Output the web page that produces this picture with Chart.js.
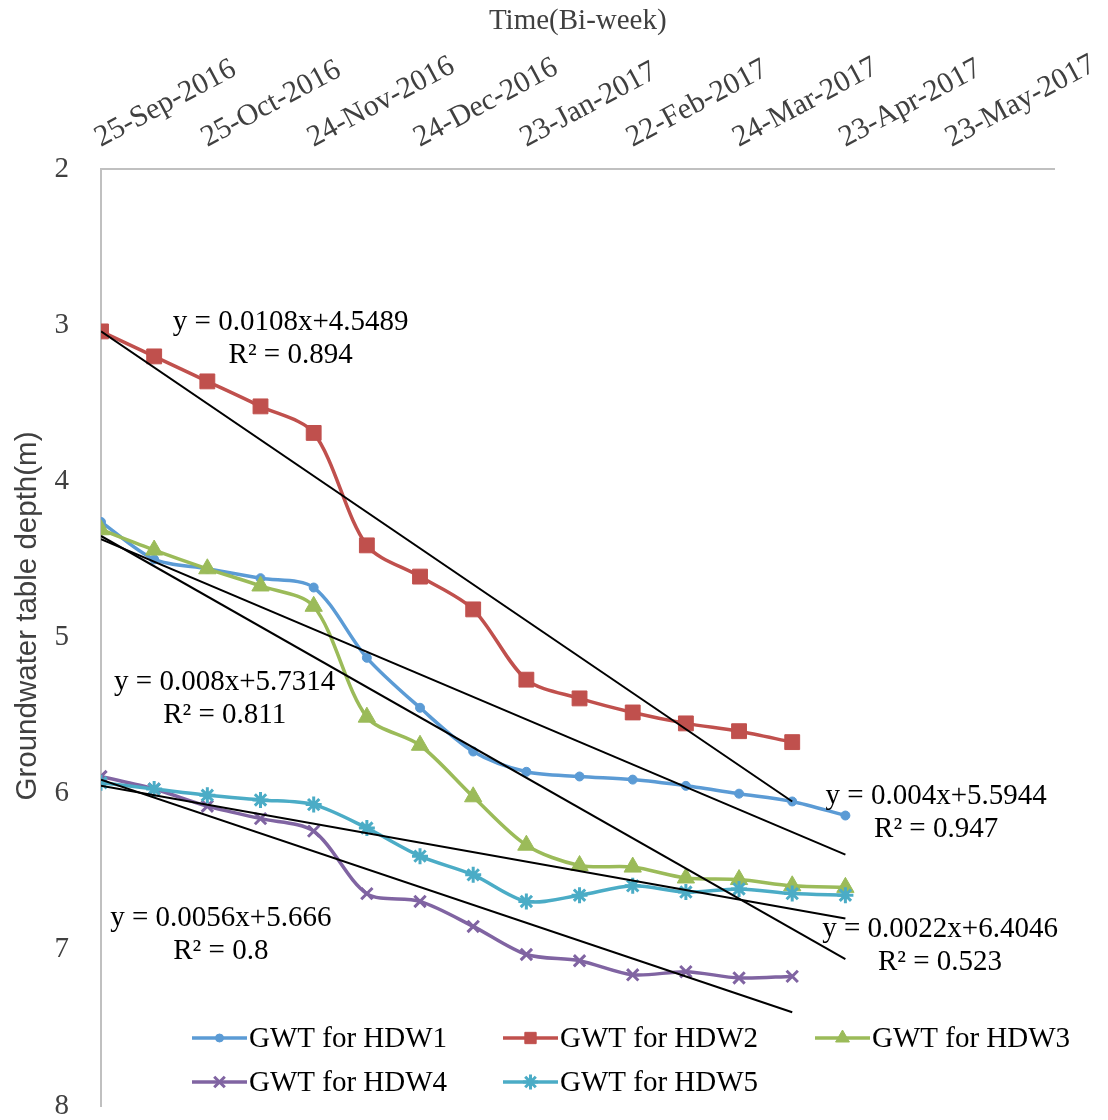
<!DOCTYPE html>
<html>
<head>
<meta charset="utf-8">
<script src="https://cdn.jsdelivr.net/npm/chart.js@4.4.0/dist/chart.umd.min.js"></script>
<style>
  body { margin: 0; background: #fff; }
  #wrap { width: 1108px; height: 1120px; }
</style>
</head>
<body>
<div id="wrap"><canvas id="myChart"></canvas></div>
<script>
// sample days, counted from 25-Sep-2016 (bi-weekly readings)
const days = [0, 15, 30, 45, 60, 75, 90, 105, 120, 135, 150, 165, 180, 195, 210];
const tickLabels = ['25-Sep-2016', '25-Oct-2016', '24-Nov-2016', '24-Dec-2016', '23-Jan-2017',
                    '22-Feb-2017', '24-Mar-2017', '23-Apr-2017', '23-May-2017'];

const hdw1 = [4.26, 4.50, 4.56, 4.62, 4.68, 5.13, 5.45, 5.73, 5.86, 5.89, 5.91, 5.95, 6.00, 6.05, 6.14];
const hdw2 = [3.04, 3.20, 3.36, 3.52, 3.69, 4.41, 4.61, 4.82, 5.27, 5.39, 5.48, 5.55, 5.60, 5.67];
const hdw3 = [4.31, 4.44, 4.56, 4.67, 4.80, 5.51, 5.69, 6.02, 6.33, 6.46, 6.47, 6.54, 6.55, 6.59, 6.60];
const hdw4 = [5.89, 5.97, 6.08, 6.16, 6.24, 6.64, 6.69, 6.85, 7.03, 7.07, 7.16, 7.14, 7.18, 7.17];
const hdw5 = [5.93, 5.97, 6.01, 6.04, 6.07, 6.22, 6.40, 6.52, 6.69, 6.65, 6.59, 6.63, 6.61, 6.64, 6.65];

const seriesNames = ['GWT for HDW1', 'GWT for HDW2', 'GWT for HDW3', 'GWT for HDW4', 'GWT for HDW5'];

// linear trendlines, start and end
const trendDays  = [[0, 210], [0, 195], [0, 210], [0, 195], [0, 210]];
const trendDepth = [[4.37, 6.39], [3.04, 6.05], [4.35, 7.06], [5.91, 7.40], [5.95, 6.80]];
const equations  = ['y = 0.004x+5.5944', 'y = 0.0108x+4.5489', 'y = 0.008x+5.7314', 'y = 0.0056x+5.666', 'y = 0.0022x+6.4046'];
const rSquared   = ['R² = 0.947', 'R² = 0.894', 'R² = 0.811', 'R² = 0.8', 'R² = 0.523'];

const serif = "'Liberation Serif', 'Times New Roman', serif";
const colors = ['#5B9BD5', '#C0504D', '#9BBB59', '#8064A2', '#4BACC6'];
const markers = [
  {style: 'circle', r: 4.5, bw: 1, lg: 4},
  {style: 'rect', r: 10.5, bw: 1, lg: 8},
  {style: 'triangle', r: 10, bw: 1, lg: 8},
  {style: 'crossRot', r: 8, bw: 3, lg: 7.5},
  {style: 'star', r: 8, bw: 3, lg: 7.5}
];
const allSeries = [hdw1, hdw2, hdw3, hdw4, hdw5];

const datasets = [];
trendDays.forEach((td, i) => {
  datasets.push({
    label: 'Linear (' + seriesNames[i] + ')',
    data: td.map((d, j) => ({x: d, y: trendDepth[i][j]})),
    borderColor: '#000',
    borderWidth: 2,
    pointRadius: 0,
    tension: 0,
    order: 0
  });
});
allSeries.forEach((vals, i) => {
  datasets.push({
    label: seriesNames[i],
    data: vals.map((v, j) => ({x: days[j], y: v})),
    borderColor: colors[i],
    backgroundColor: colors[i],
    borderWidth: 3.5,
    pointStyle: markers[i].style,
    pointRadius: markers[i].r,
    pointBorderWidth: markers[i].bw,
    pointBackgroundColor: colors[i],
    pointBorderColor: colors[i],
    tension: 0.3,
    order: 5 - i
  });
});

// equation labels + custom legend sitting inside the plot
const extras = {
  id: 'extras',
  afterDraw(chart) {
    const {ctx, chartArea, scales} = chart;
    ctx.save();

    // trendline equations (day, depth) of text centre
    const eqPos = [[235.6, 6.02], [53.5, 2.98], [34.9, 5.29], [33.8, 6.80], [236.7, 6.87]];
    ctx.font = '29px ' + serif;
    ctx.fillStyle = '#000';
    ctx.textAlign = 'center';
    ctx.textBaseline = 'middle';
    eqPos.forEach((p, i) => {
      const x = scales.x.getPixelForValue(p[0]);
      const y = scales.y.getPixelForValue(p[1]);
      ctx.fillText(equations[i], x, y);
      ctx.fillText(rSquared[i], x, y + 33);
    });

    // legend
    const cols = [91, 402, 714];
    const rows = [-68, -24];
    ctx.textAlign = 'left';
    seriesNames.forEach((name, i) => {
      const x0 = chartArea.left + cols[i % 3];
      const y0 = chartArea.bottom + rows[Math.floor(i / 3)];
      ctx.strokeStyle = colors[i];
      ctx.lineWidth = 3.5;
      ctx.beginPath();
      ctx.moveTo(x0, y0);
      ctx.lineTo(x0 + 55, y0);
      ctx.stroke();
      const m = markers[i];
      ctx.fillStyle = colors[i];
      ctx.lineWidth = m.bw;
      Chart.helpers.drawPoint(ctx, {
        pointStyle: m.style,
        radius: m.lg,
        borderWidth: m.bw,
        rotation: 0
      }, x0 + 27.5, y0);
      ctx.fillStyle = '#000';
      ctx.fillText(name, x0 + 57, y0 + 1);
    });

    // y axis title
    ctx.translate(28, 616);
    ctx.rotate(-Math.PI / 2);
    ctx.font = "29.5px 'Liberation Sans', Arial, sans-serif";
    ctx.fillStyle = '#404040';
    ctx.textAlign = 'center';
    ctx.fillText('Groundwater table depth(m)', 0, 0);
    ctx.restore();
  }
};

new Chart(document.getElementById('myChart'), {
  type: 'line',
  data: {datasets},
  options: {
    responsive: true,
    maintainAspectRatio: false,
    animation: false,
    layout: {autoPadding: false, padding: {left: 0, top: 0, right: 52, bottom: 14}},
    plugins: {legend: {display: false}, tooltip: {enabled: false}},
    scales: {
      x: {
        type: 'linear',
        position: 'top',
        min: 0,
        max: 269,
        grid: {display: false},
        border: {display: true, color: '#c0c0c0', width: 2},
        ticks: {
          stepSize: 30,
          includeBounds: false,
          autoSkip: false,
          minRotation: 28,
          maxRotation: 28,
          padding: 5,
          labelOffset: 13,
          color: '#404040',
          font: {family: serif, size: 30},
          callback: v => tickLabels[v / 30]
        },
        title: {
          display: true,
          text: 'Time(Bi-week)',
          color: '#404040',
          font: {family: serif, size: 29},
          padding: {top: 4, bottom: 0}
        },
        afterFit: s => { s.height = 169; }
      },
      y: {
        min: 2,
        max: 8,
        reverse: true,
        grid: {display: false},
        border: {display: true, color: '#c0c0c0', width: 2},
        ticks: {
          stepSize: 1,
          padding: 24,
          color: '#404040',
          font: {family: serif, size: 29}
        },
        afterFit: s => {
          s.width = 101;
          s.paddingTop = 0;
          s.paddingBottom = 0;
        }
      }
    }
  },
  plugins: [extras]
});
</script>
</body>
</html>
